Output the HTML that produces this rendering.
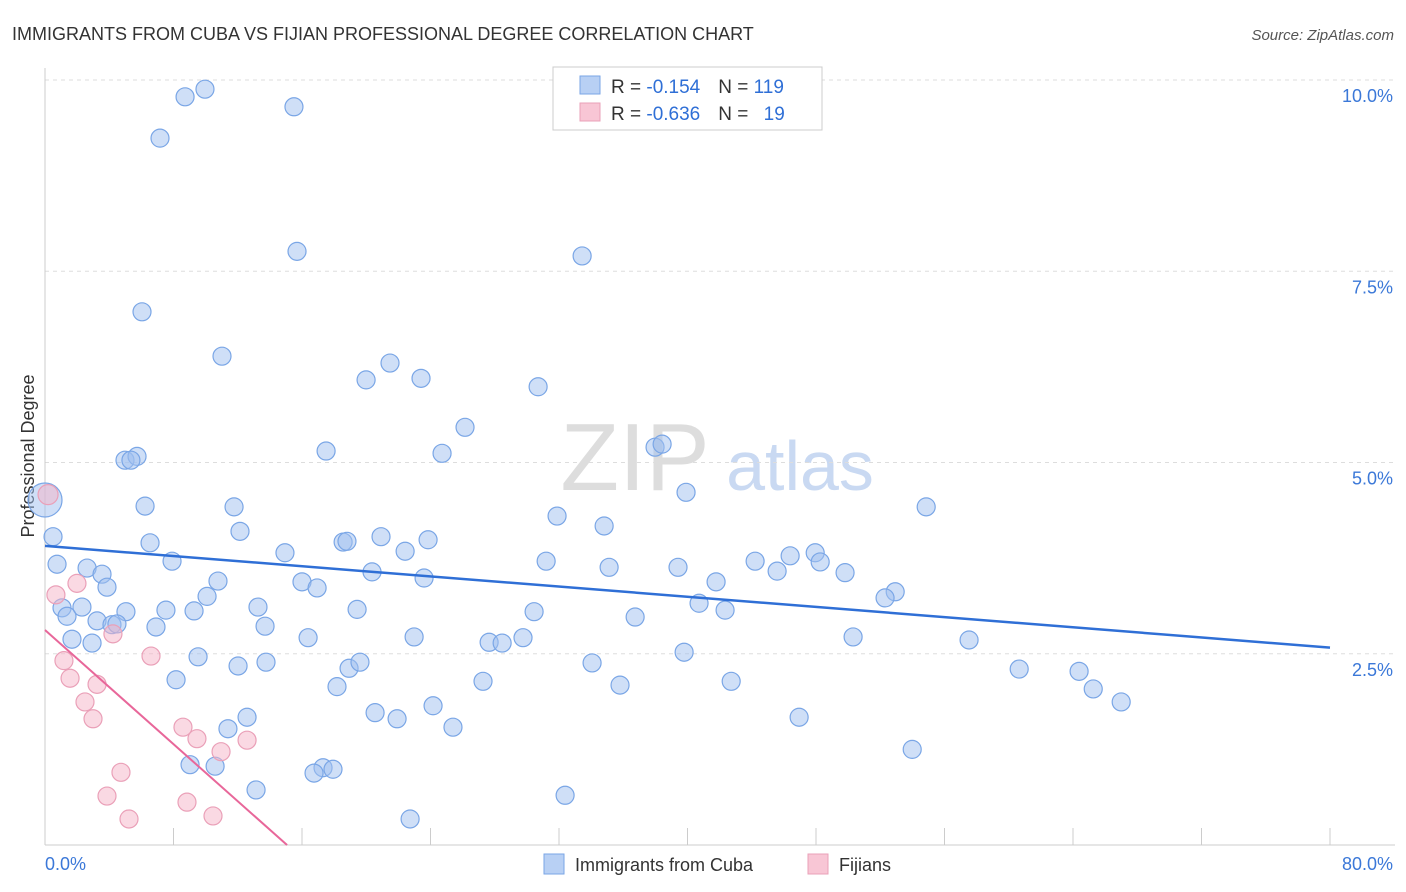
<!DOCTYPE html>
<html><head><meta charset="utf-8">
<style>
body{margin:0;background:#fff;font-family:"Liberation Sans",sans-serif;}
#wrap{position:relative;width:1406px;height:892px;overflow:hidden;}
svg text{font-family:"Liberation Sans",sans-serif;}
</style></head>
<body>
<div id="wrap">
<svg id="chart" width="1406" height="892">
  <text x="12" y="40" font-size="18" fill="#333">IMMIGRANTS FROM CUBA VS FIJIAN PROFESSIONAL DEGREE CORRELATION CHART</text>
  <text x="1394" y="40" font-size="15" fill="#555" font-style="italic" text-anchor="end">Source: ZipAtlas.com</text>
  <text x="0" y="0" transform="translate(34,456) rotate(-90)" font-size="18" fill="#333" text-anchor="middle">Professional Degree</text>
  <g>
    <text x="635" y="490" font-size="96" fill="#ddd" font-family="Liberation Serif" text-anchor="middle">ZIP</text>
    <text x="800" y="490" font-size="70" fill="#c9d9f2" text-anchor="middle">atlas</text>
  </g>
  <g id="grid"></g>
  <g id="axes"></g>
  <g id="points"></g>
  <g id="lines"></g>
  <g>
    <rect x="553" y="67" width="269" height="63" fill="#fff" stroke="#ccc"/>
    <rect x="580" y="76" width="20" height="18" fill="#b8d0f4" stroke="#7aa6e6"/>
    <rect x="580" y="103" width="20" height="18" fill="#f8c6d5" stroke="#eaa0b8"/>
    <text x="611" y="93" font-size="19" fill="#333">R = <tspan fill="#2f6fd6">-0.154</tspan><tspan dx="18">N = </tspan><tspan fill="#2f6fd6">119</tspan></text>
    <text x="611" y="120" font-size="19" fill="#333">R = <tspan fill="#2f6fd6">-0.636</tspan><tspan dx="18">N = </tspan><tspan fill="#2f6fd6" dx="10">19</tspan></text>
  </g>
  <g>
    <rect x="544" y="854" width="20" height="20" fill="#b8d0f4" stroke="#7aa6e6"/>
    <text x="575" y="871" font-size="18" fill="#333">Immigrants from Cuba</text>
    <rect x="808" y="854" width="20" height="20" fill="#f8c6d5" stroke="#eaa0b8"/>
    <text x="839" y="871" font-size="18" fill="#333">Fijians</text>
  </g>
</svg>
</div>
<script>
const yTicks = [2.5, 5.0, 7.5, 10.0];
const yTickLabels = ["2.5%", "5.0%", "7.5%", "10.0%"];
const xTickVals = [8,16,24,32,40,48,56,64,72,80];
const xAxisLabels = ["0.0%", "80.0%"];
const cubaX = [8.72,9.96,15.50,7.16,15.69,33.44,6.04,11.02,21.48,19.99,23.41,30.70,26.15,17.50,24.72,4.98,5.73,5.35,37.98,38.42,39.91,6.23,11.77,54.86,31.88,12.14,34.81,0.50,6.54,18.56,18.80,20.92,23.85,14.94,22.42,7.91,31.20,0.75,2.62,44.21,47.95,46.39,48.26,3.55,35.12,39.41,45.58,49.81,20.36,10.77,16.00,23.60,41.78,3.86,16.94,52.93,52.30,10.09,1.06,2.30,13.26,5.04,7.53,9.28,19.43,30.45,40.72,42.34,1.37,3.24,4.17,4.48,13.70,6.91,36.74,1.68,2.93,16.38,22.98,27.65,28.46,29.76,50.31,57.53,39.79,9.53,13.76,12.02,18.93,19.61,34.06,60.65,64.38,8.16,27.27,35.80,42.72,18.18,65.26,67.00,24.16,20.55,21.92,12.58,46.95,11.39,25.40,53.99,9.03,10.59,17.31,17.93,16.75,13.14,32.38,22.73,0.0];
const cubaY = [9.78,9.88,9.65,9.24,7.76,7.70,6.97,6.39,6.30,6.08,6.10,5.99,5.46,5.15,5.12,5.03,5.08,5.03,5.20,5.24,4.61,4.43,4.42,4.42,4.30,4.10,4.17,4.03,3.95,3.96,3.97,4.03,3.99,3.82,3.84,3.71,3.71,3.67,3.62,3.71,3.82,3.78,3.70,3.54,3.63,3.63,3.58,3.56,3.57,3.45,3.44,3.49,3.44,3.37,3.36,3.31,3.23,3.25,3.10,3.11,3.11,3.05,3.07,3.06,3.08,3.05,3.16,3.07,2.99,2.93,2.88,2.89,2.86,2.85,2.98,2.69,2.64,2.71,2.72,2.65,2.64,2.71,2.72,2.68,2.52,2.46,2.39,2.34,2.31,2.39,2.38,2.30,2.27,2.16,2.14,2.09,2.14,2.07,2.04,1.87,1.82,1.73,1.65,1.67,1.67,1.52,1.54,1.25,1.05,1.03,1.01,0.99,0.94,0.72,0.65,0.34,4.51];
const fijiX = [0.19,0.68,1.99,1.18,1.56,3.24,2.49,2.99,4.23,6.60,8.59,9.46,12.58,10.96,4.73,3.86,8.84,10.46,5.23];
const fijiY = [4.58,3.27,3.42,2.41,2.18,2.10,1.87,1.65,2.76,2.47,1.54,1.39,1.37,1.22,0.95,0.64,0.56,0.38,0.34];
const cubaTrend = [3.91, 2.58];   // y at x=0 and x=80
const fijiTrend = [2.81, 15.07];  // y at x=0, x where y=0

const NS="http://www.w3.org/2000/svg";
const X0=45,X1=1330,Y0=845,YPER=76.5;
function xs(v){return X0+(v/80)*(X1-X0);}
function ys(v){return Y0-v*YPER;}
function mk(tag,attrs,parent){const e=document.createElementNS(NS,tag);for(const k in attrs)e.setAttribute(k,attrs[k]);parent.appendChild(e);return e;}

const grid=document.getElementById('grid');
yTicks.forEach((t,i)=>{
  const l=mk('line',{x1:45,x2:1395,y1:ys(t),y2:ys(t),stroke:'#ddd','stroke-dasharray':'4,4'},grid);
  
  
  const tx=mk('text',{x:1393,y:ys(t)+22,'font-size':18,fill:'#3b78d8','text-anchor':'end'},grid);
  tx.textContent=yTickLabels[i];
  
  
});
const axes=document.getElementById('axes');
let a=mk('line',{x1:45,x2:45,y1:68,y2:845,stroke:'#ccc'},axes);


a=mk('line',{x1:45,x2:1395,y1:845,y2:845,stroke:'#ccc'},axes);


xTickVals.forEach(v=>{
  const t=mk('line',{x1:xs(v),x2:xs(v),y1:828,y2:845,stroke:'#ccc'},axes);
  
  
});
let lb=mk('text',{x:45,y:870,'font-size':18,fill:'#3b78d8'},axes);
lb.textContent=xAxisLabels[0];


lb=mk('text',{x:1393,y:870,'font-size':18,fill:'#3b78d8','text-anchor':'end'},axes);
lb.textContent=xAxisLabels[1];



const pts=document.getElementById('points');
cubaX.forEach((v,i)=>{
  const big=(i===cubaX.length-1);
  const c=mk('circle',{cx:xs(v),cy:ys(cubaY[i]),r:big?17:9,fill:'rgba(160,192,240,0.5)',stroke:'#7aa6e6','stroke-width':1.2},pts);
  
  
});
fijiX.forEach((v,i)=>{
  const c=mk('circle',{cx:xs(v),cy:ys(fijiY[i]),r:i===0?10:9,fill:'rgba(245,180,200,0.5)',stroke:'#eaa0b8','stroke-width':1.2},pts);
  
  
});
const lines=document.getElementById('lines');
let ln=mk('line',{x1:xs(0),y1:ys(cubaTrend[0]),x2:xs(80),y2:ys(cubaTrend[1]),stroke:'#2f6fd6','stroke-width':2.5},lines);


ln=mk('line',{x1:xs(0),y1:ys(fijiTrend[0]),x2:xs(fijiTrend[1]),y2:ys(0),stroke:'#e8679a','stroke-width':2},lines);


</script>
</body></html>
